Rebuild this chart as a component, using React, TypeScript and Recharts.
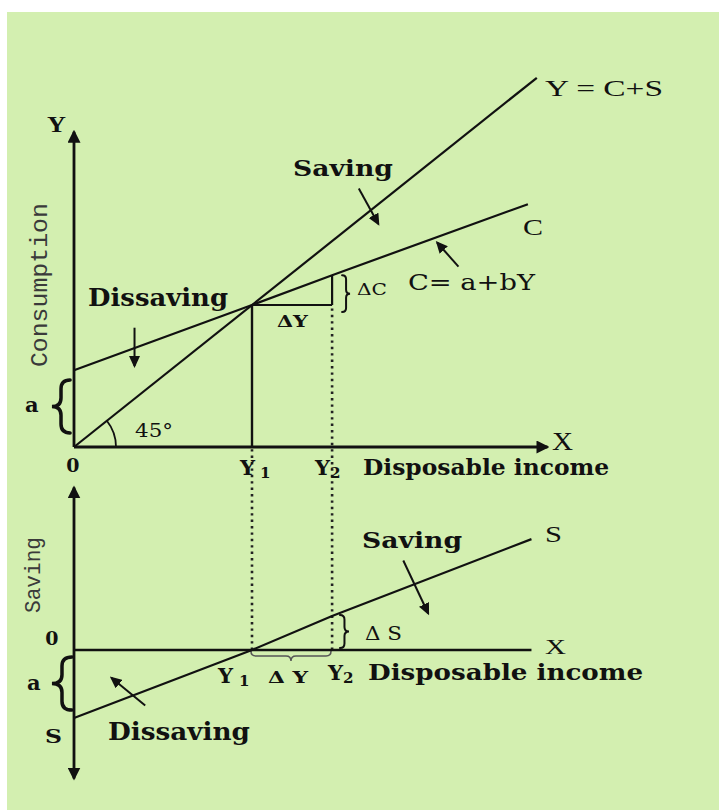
import React from "react";
import { ComposedChart, Line, XAxis, YAxis, ReferenceDot, ReferenceArea } from "recharts";

// Income levels (Y1 = 100 units) and the schedules
const Y1 = 100;
const Y2 = 145;
const incomeC = [0, Y1, Y2, 255];
const consumption = [54, 100, 121, 171];
const incomeS = [0, Y1, Y2, 257];
const saving = [-54, 0, 27, 88];
const incomeLine = [0, 260]; // Y = C + S, the 45 degree line
const topAxisY = 222;
const topAxisX = 266;
const bottomAxisX = 257;
const bottomAxisUp = 129;
const bottomAxisDown = -102;

// pointer arrows [from, to]
const arrowsC: number[][][] = [
  [[34, 84], [34, 57]],
  [[160, 182], [171, 157]],
  [[216, 127], [204, 144]],
];
const arrowsS: number[][][] = [
  [[185, 71], [199, 29]],
  [[40, -44], [21, -22]],
];

// sheet layout: pixel of zero and pixels per unit
const W = 719;
const H = 810;
const X0 = 74, XPX = 1.78;
const C0 = 447, CPX = 1.42;
const S0 = 650, SPX = 1.26;
const xDomain = [-X0 / XPX, (W - X0) / XPX];
const cDomain = [-(H - C0) / CPX, C0 / CPX];
const sDomain = [-(H - S0) / SPX, S0 / SPX];
const cToS = (c: number) => (S0 - (C0 - c * CPX)) / SPX;

const BOLD = "DejaVu Serif";
const TIMES = "Liberation Serif";
const MONO = "Liberation Mono";

type Lbl = {
  t: string; x: number; y: number; ax: "c" | "s"; fs: number;
  ff?: string; fw?: number; len?: number; rot?: boolean; anchor?: string; sub?: string; subDx?: number; fill?: string;
};

const labels: Lbl[] = [
  { t: "Y", x: -15.2, y: 221.8, ax: "c", fs: 24, ff: TIMES, fw: 700, len: 19 },
  { t: "Consumption", x: -15.2, y: 114, ax: "c", fs: 24, ff: MONO, rot: true, anchor: "middle", len: 164, fill: "#3a3a3a" },
  { t: "0", x: -0.6, y: -17.6, ax: "c", fs: 19, ff: BOLD, fw: 700, anchor: "middle" },
  { t: "Y", sub: "1", subDx: 5, x: 93.3, y: -19.7, ax: "c", fs: 21, ff: BOLD, fw: 700 },
  { t: "Y", sub: "2", subDx: 0, x: 135.4, y: -19.7, ax: "c", fs: 21, ff: BOLD, fw: 700 },
  { t: "Disposable income", x: 162.4, y: -19.7, ax: "c", fs: 22, ff: BOLD, fw: 700, len: 246 },
  { t: "X", x: 268.5, y: -2.1, ax: "c", fs: 25, ff: TIMES, len: 21 },
  { t: "a", x: -27.5, y: 24.6, ax: "c", fs: 21, ff: BOLD, fw: 700 },
  { t: "45°", x: 34.3, y: 7.0, ax: "c", fs: 19, ff: BOLD, len: 38 },
  { t: "Dissaving", x: 7.9, y: 99.3, ax: "c", fs: 24, ff: BOLD, fw: 700, len: 140 },
  { t: "Saving", x: 123, y: 190.8, ax: "c", fs: 23, ff: BOLD, fw: 700, len: 100 },
  { t: "C", x: 252.2, y: 149.3, ax: "c", fs: 24, ff: TIMES, len: 20 },
  { t: "C= a+bY", x: 187.6, y: 110.6, ax: "c", fs: 22, ff: BOLD, len: 127 },
  { t: "ΔC", x: 159, y: 107, ax: "c", fs: 16, ff: BOLD, len: 30 },
  { t: "ΔY", x: 114, y: 84.5, ax: "c", fs: 17, ff: BOLD, fw: 700, len: 31 },
  { t: "Y = C+S", x: 264.6, y: 247.2, ax: "c", fs: 24, ff: TIMES, len: 118 },

  { t: "Saving", x: -19.1, y: 59.5, ax: "s", fs: 22, ff: MONO, rot: true, anchor: "middle", len: 76, fill: "#3a3a3a" },
  { t: "0", x: -12.4, y: 4.0, ax: "s", fs: 19, ff: BOLD, fw: 700, anchor: "middle" },
  { t: "a", x: -26.4, y: -31.7, ax: "s", fs: 21, ff: BOLD, fw: 700 },
  { t: "S", x: -16.3, y: -73.8, ax: "s", fs: 19, ff: BOLD, fw: 700, len: 17 },
  { t: "X", x: 264.6, y: -3.2, ax: "s", fs: 22, ff: TIMES, len: 21 },
  { t: "Disposable income", x: 165.2, y: -23.8, ax: "s", fs: 22, ff: BOLD, fw: 700, len: 275 },
  { t: "Y", sub: "1", subDx: 6, x: 80.9, y: -26.2, ax: "s", fs: 21, ff: BOLD, fw: 700 },
  { t: "Δ Y", x: 109, y: -26.2, ax: "s", fs: 17, ff: BOLD, fw: 700, len: 40 },
  { t: "Y", sub: "2", subDx: 0, x: 142.7, y: -23.8, ax: "s", fs: 21, ff: BOLD, fw: 700 },
  { t: "Δ S", x: 163.5, y: 7.9, ax: "s", fs: 18, ff: BOLD, len: 37 },
  { t: "Saving", x: 161.8, y: 81, ax: "s", fs: 23, ff: BOLD, fw: 700, len: 100 },
  { t: "S", x: 264.6, y: 85.7, ax: "s", fs: 23, ff: TIMES, len: 17 },
  { t: "Dissaving", x: 19.1, y: -71.4, ax: "s", fs: 24, ff: BOLD, fw: 700, len: 142 },
];

type Brace = { ax: "c" | "s"; x1: number; x2: number; y1: number; y2: number; dir: "left" | "right" | "down"; sw: number; color?: string };
const braces: Brace[] = [
  { ax: "c", x1: -12.4, x2: -2.2, y1: 9.9, y2: 47.2, dir: "left", sw: 3.5 },
  { ax: "c", x1: 150.6, x2: 155.1, y1: 95, y2: 121, dir: "right", sw: 2 },
  { ax: "s", x1: -12.4, x2: -1.1, y1: -47.6, y2: -5.6, dir: "left", sw: 3.5 },
  { ax: "s", x1: 149.4, x2: 154.5, y1: 1.6, y2: 27.8, dir: "right", sw: 2 },
  { ax: "s", x1: 99.4, x2: 144.4, y1: -8.7, y2: -0.8, dir: "down", sw: 1.5, color: "#555" },
];

const pts = (xs: number[], ys: number[]) => xs.map((x, i) => ({ x, y: ys[i] }));
const pair = (p: number[][]) => p.map(([x, y]) => ({ x, y }));

const bracePath = (x: number, y: number, w: number, h: number, dir: string) => {
  if (dir === "down") {
    const ym = y + h / 2, r = h / 2, cx = x + w / 2, yb = y + h;
    return `M${x},${y} Q${x},${ym} ${x + r},${ym} L${cx - r},${ym} Q${cx},${ym} ${cx},${yb} Q${cx},${ym} ${cx + r},${ym} L${x + w - r},${ym} Q${x + w},${ym} ${x + w},${y}`;
  }
  const tip = dir === "left" ? x : x + w;
  const back = dir === "left" ? x + w : x;
  const xm = (tip + back) / 2, r = Math.min(w / 2, h / 6), cy = y + h / 2, yb = y + h;
  return `M${back},${y} Q${xm},${y} ${xm},${y + r} L${xm},${cy - r} Q${xm},${cy} ${tip},${cy} Q${xm},${cy} ${xm},${cy + r} L${xm},${yb - r} Q${xm},${yb} ${back},${yb}`;
};

const seg = (key: string, data: { x: number; y: number }[], axis: string, sw = 2.2, extra: any = {}) => (
  <Line
    key={key}
    data={data}
    dataKey="y"
    yAxisId={axis}
    type="linear"
    dot={false}
    activeDot={false}
    stroke="#111"
    strokeWidth={sw}
    isAnimationActive={false}
    {...extra}
  />
);

const dotted = { strokeDasharray: "2.4 4", stroke: "#222" };

export default function App() {
  const ang = Math.atan(CPX / XPX);
  return (
    <div style={{ position: "absolute", left: 0, top: 0, width: W, height: H, background: "#fff" }}>
      <div style={{ position: "absolute", left: 7, top: 12, right: 0, bottom: 0, background: "#d3efb0" }} />
      <svg width={0} height={0} style={{ position: "absolute" }}>
        <defs>
          <marker id="axisHead" viewBox="0 0 13 13" refX="11" refY="6.5" markerWidth="13" markerHeight="13" markerUnits="userSpaceOnUse" orient="auto">
            <path d="M0,0 L13,6.5 L0,13 Z" fill="#111" />
          </marker>
          <marker id="ptrHead" viewBox="0 0 12 11" refX="10" refY="5.5" markerWidth="12" markerHeight="11" markerUnits="userSpaceOnUse" orient="auto">
            <path d="M0,0 L12,5.5 L0,11 Z" fill="#111" />
          </marker>
        </defs>
      </svg>
      <div style={{ position: "absolute", left: 0, top: 0 }}>
        <ComposedChart width={W} height={H} margin={{ top: 0, right: 0, bottom: 0, left: 0 }}>
          <XAxis dataKey="x" type="number" domain={xDomain} allowDataOverflow hide />
          <YAxis yAxisId="c" type="number" domain={cDomain} allowDataOverflow hide />
          <YAxis yAxisId="s" type="number" domain={sDomain} allowDataOverflow hide />

          {/* dotted drop lines from Y1 and Y2 */}
          {seg("dropY1", pts([Y1, Y1], [0, cToS(0)]), "s", 2.6, dotted)}
          {seg("dropY2", pts([Y2, Y2], [0, cToS(consumption[1])]), "s", 2.6, dotted)}

          {/* upper panel axes */}
          {seg("axYc", pts([0, 0], [0, topAxisY]), "c", 2.8, { markerEnd: "url(#axisHead)" })}
          {seg("axXc", pts([0, topAxisX], [0, 0]), "c", 2.8, { markerEnd: "url(#axisHead)" })}

          {/* upper panel schedules */}
          {seg("line45", pts(incomeLine, incomeLine), "c", 2.2)}
          {seg("cons", pts(incomeC, consumption), "c", 2.2)}
          {seg("y1", pts([Y1, Y1], [0, consumption[1]]), "c", 2.4)}
          {seg("dY", pts([Y1, Y2], [consumption[1], consumption[1]]), "c", 2.2)}
          {seg("dC", pts([Y2, Y2], [consumption[1], consumption[2]]), "c", 2.2)}

          {/* lower panel axes */}
          {seg("axSup", pts([0, 0], [0, bottomAxisUp]), "s", 2.8, { markerEnd: "url(#axisHead)" })}
          {seg("axSdn", pts([0, 0], [0, bottomAxisDown]), "s", 2.8, { markerEnd: "url(#axisHead)" })}
          {seg("axXs", pts([0, bottomAxisX], [0, 0]), "s", 2.6)}
          {seg("sav", pts(incomeS, saving), "s", 2.2)}

          {arrowsC.map((a, i) => seg(`ac${i}`, pair(a), "c", 2, { markerEnd: "url(#ptrHead)" }))}
          {arrowsS.map((a, i) => seg(`as${i}`, pair(a), "s", 2, { markerEnd: "url(#ptrHead)" }))}

          {braces.map((b, i) => (
            <ReferenceArea
              key={`b${i}`}
              yAxisId={b.ax}
              x1={b.x1}
              x2={b.x2}
              y1={b.y1}
              y2={b.y2}
              shape={(p: any) => (
                <path d={bracePath(p.x, p.y, p.width, p.height, b.dir)} fill="none" stroke={b.color ?? "#111"} strokeWidth={b.sw} strokeLinecap="round" />
              )}
            />
          ))}

          <ReferenceDot
            yAxisId="c"
            x={0}
            y={0}
            r={0}
            shape={(p: any) => {
              const R = 42;
              const ex = p.cx + R * Math.cos(ang);
              const ey = p.cy - R * Math.sin(ang);
              return <path d={`M${p.cx + R},${p.cy} A${R},${R} 0 0 0 ${ex},${ey}`} fill="none" stroke="#111" strokeWidth={1.8} />;
            }}
          />

          {labels.map((l, i) => (
            <ReferenceDot
              key={`l${i}`}
              yAxisId={l.ax}
              x={l.x}
              y={l.y}
              r={0}
              shape={(p: any) => (
                <text
                  x={p.cx}
                  y={p.cy}
                  fontSize={l.fs}
                  fontFamily={l.ff}
                  fontWeight={l.fw ?? 400}
                  textAnchor={l.anchor ?? "start"}
                  fill={l.fill ?? "#111"}
                  textLength={l.len}
                  lengthAdjust={l.len ? "spacingAndGlyphs" : undefined}
                  transform={l.rot ? `rotate(-90 ${p.cx} ${p.cy})` : undefined}
                >
                  {l.t}
                  {l.sub && (
                    <tspan fontSize={l.fs * 0.72} dx={l.subDx ?? 2} dy={3}>
                      {l.sub}
                    </tspan>
                  )}
                </text>
              )}
            />
          ))}
        </ComposedChart>
      </div>
    </div>
  );
}
